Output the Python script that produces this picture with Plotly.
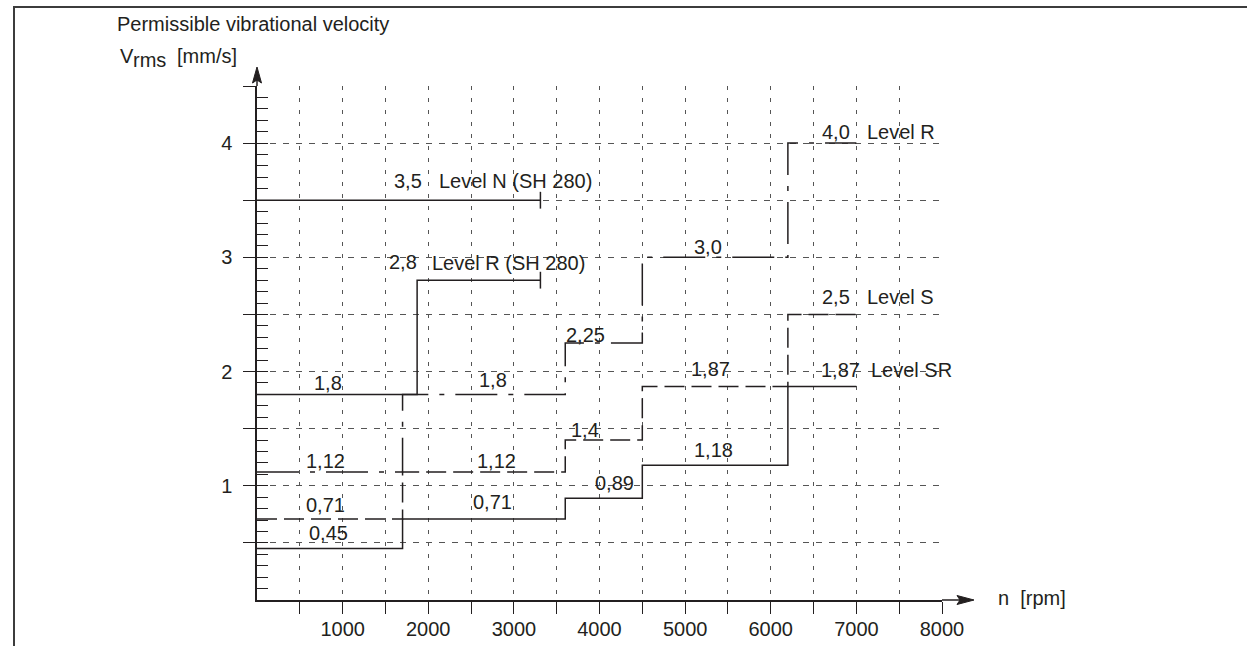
import plotly.graph_objects as go

# ---------------- data ----------------
# speed breakpoints [rpm] and permissible vibrational velocity [mm/s]
speed_breaks = [0, 1700, 3600, 4500, 6200, 7000]
level_R = [1.12, 1.8, 2.25, 3.0, 4.0]
level_S = [0.71, 1.12, 1.4, 1.87, 2.5]
level_SR = [0.45, 0.71, 0.89, 1.18, 1.87]

sh280_breaks = [0, 1870, 3310]
level_R_sh280 = [1.8, 2.8]
level_N_sh280_breaks = [0, 3310]
level_N_sh280 = [3.5]

x_tick_vals = [500, 1000, 1500, 2000, 2500, 3000, 3500, 4000, 4500, 5000, 5500, 6000, 6500, 7000, 7500, 8000]
x_tick_text = ["", "1000", "", "2000", "", "3000", "", "4000", "", "5000", "", "6000", "", "7000", "", "8000"]
y_tick_vals = [0.5, 1, 1.5, 2, 2.5, 3, 3.5, 4, 4.5]
y_tick_text = ["", "1", "", "2", "", "3", "", "4", ""]
y_minor_vals = [round(0.1 * i, 1) for i in range(1, 46)]

value_texts = ["3,5", "2,8", "4,0", "3,0", "2,5", "2,25", "1,8", "1,8", "1,4",
               "1,12", "1,12", "0,71", "0,71", "0,45", "0,89", "1,87", "1,87", "1,18"]
value_x = [1763, 1703, 6764, 5272, 6758, 3838, 833, 2753, 3832,
           800, 2794, 802, 2755, 839, 4171, 5298, 6811, 5337]
value_y = [3.667, 2.955, 4.101, 3.091, 2.649, 2.316, 1.897, 1.926, 1.491,
           1.215, 1.215, 0.829, 0.856, 0.584, 1.022, 2.024, 2.011, 1.313]

level_names = ["Level N (SH 280)", "Level R (SH 280)", "Level R", "Level S", "Level SR"]
level_name_x = [2106, 2021, 7103, 7103, 7153]
level_name_y = [3.667, 2.951, 4.101, 2.649, 2.011]

# ---------------- style ----------------
INK = "#231f20"
GRID = "#555555"
FONT = "Liberation Sans, Arial, Helvetica, sans-serif"
FS = 20

L, T, PW, PH = 257, 86, 685, 514
W, H = 1247, 646


def px(x):
    return (x - L) / PW


def py(y):
    return (T + PH - y) / PH


def step(xs, ys):
    return xs, list(ys) + [ys[-1]]


fig = go.Figure()

series = [
    (speed_breaks, level_SR, "solid"),
    (speed_breaks, level_S, "20px,7px"),
    (speed_breaks, level_R, "42px,11px,5px,11px"),
    (sh280_breaks, level_R_sh280, "solid"),
    (level_N_sh280_breaks, level_N_sh280, "solid"),
]
for xs, ys, dash in series:
    sx, sy = step(xs, ys)
    fig.add_trace(go.Scatter(x=sx, y=sy, mode="lines",
                             line=dict(shape="hv", color=INK, width=1.5, dash=dash),
                             hoverinfo="skip", showlegend=False))

# end ticks of SH 280 curves
fig.add_trace(go.Scatter(x=[sh280_breaks[-1], level_N_sh280_breaks[-1]],
                         y=[level_R_sh280[-1], level_N_sh280[-1]],
                         mode="markers",
                         marker=dict(symbol="line-ns", size=12, color=INK,
                                     line=dict(width=1.5, color=INK)),
                         hoverinfo="skip", showlegend=False))

# helper trace for minor tick axis
fig.add_trace(go.Scatter(x=[None], y=[None], yaxis="y2", showlegend=False, hoverinfo="skip"))

annotations = []
for t, x, y in zip(value_texts, value_x, value_y):
    annotations.append(dict(x=x, y=y, xref="x", yref="y", text=t, showarrow=False,
                            xanchor="center", yanchor="middle",
                            font=dict(family=FONT, size=FS, color=INK)))
for t, x, y in zip(level_names, level_name_x, level_name_y):
    annotations.append(dict(x=x, y=y, xref="x", yref="y", text=t, showarrow=False,
                            xanchor="left", yanchor="middle",
                            font=dict(family=FONT, size=FS, color=INK)))

annotations += [
    dict(x=px(115), y=py(24), xref="paper", yref="paper", text="Permissible vibrational velocity",
         showarrow=False, xanchor="left", yanchor="middle", font=dict(family=FONT, size=FS, color=INK)),
    dict(x=px(118), y=py(56), xref="paper", yref="paper", text="V",
         showarrow=False, xanchor="left", yanchor="middle", font=dict(family=FONT, size=FS, color=INK)),
    dict(x=px(131), y=py(60), xref="paper", yref="paper", text="rms",
         showarrow=False, xanchor="left", yanchor="middle", font=dict(family=FONT, size=FS, color=INK)),
    dict(x=px(175), y=py(56), xref="paper", yref="paper", text="[mm/s]",
         showarrow=False, xanchor="left", yanchor="middle", font=dict(family=FONT, size=FS, color=INK)),
    dict(x=px(996), y=py(598), xref="paper", yref="paper", text="n  [rpm]",
         showarrow=False, xanchor="left", yanchor="middle", font=dict(family=FONT, size=FS, color=INK)),
]

shapes = [
    # outer frame (left + top)
    dict(type="line", xref="paper", yref="paper", x0=px(14), y0=py(700), x1=px(14), y1=py(7),
         line=dict(color="#3c3c3c", width=2)),
    dict(type="line", xref="paper", yref="paper", x0=px(13), y0=py(7), x1=px(1300), y1=py(7),
         line=dict(color="#3c3c3c", width=2)),
    # axis extensions
    dict(type="line", xref="paper", yref="paper", x0=px(L), y0=py(T), x1=px(L), y1=py(76),
         line=dict(color=INK, width=1.5)),
    dict(type="line", xref="paper", yref="paper", x0=px(L + PW), y0=py(600), x1=px(965), y1=py(600),
         line=dict(color=INK, width=1.5)),
    # arrow heads
    dict(type="path", xref="paper", yref="paper",
         path=f"M{px(257)},{py(67)} L{px(252.5)},{py(83)} L{px(257)},{py(80)} L{px(261.5)},{py(83)} Z",
         fillcolor=INK, line=dict(color=INK, width=1)),
    dict(type="path", xref="paper", yref="paper",
         path=f"M{px(974)},{py(600)} L{px(957)},{py(595.5)} L{px(960)},{py(600)} L{px(957)},{py(604.5)} Z",
         fillcolor=INK, line=dict(color=INK, width=1)),
]

fig.update_layout(
    width=W, height=H,
    margin=dict(l=L, r=W - L - PW, t=T, b=H - T - PH, pad=0, autoexpand=False),
    paper_bgcolor="white", plot_bgcolor="white",
    font=dict(family=FONT, size=FS, color=INK),
    showlegend=False,
    xaxis=dict(range=[0, 8000], showline=True, linecolor=INK, linewidth=1.5,
               ticks="outside", ticklen=12, tickwidth=1, tickcolor=INK,
               tickvals=x_tick_vals, ticktext=x_tick_text, ticklabelstandoff=-2,
               showgrid=True, gridcolor=GRID, gridwidth=1, griddash="4px,8px",
               zeroline=False, automargin=False,
               tickfont=dict(family=FONT, size=FS, color=INK)),
    yaxis=dict(range=[0, 4.5], showline=True, linecolor=INK, linewidth=1.5,
               ticks="outside", ticklen=12, tickwidth=1, tickcolor=INK,
               tickvals=y_tick_vals, ticktext=y_tick_text, ticklabelstandoff=7,
               showgrid=True, gridcolor=GRID, gridwidth=1, griddash="6px,7px",
               zeroline=False, automargin=False,
               tickfont=dict(family=FONT, size=FS, color=INK)),
    yaxis2=dict(range=[0, 4.5], overlaying="y", side="left", ticks="inside", ticklen=11,
                tickwidth=1, tickcolor=INK, tickvals=y_minor_vals, showticklabels=False,
                showgrid=False, zeroline=False, showline=False, automargin=False),
    annotations=annotations,
    shapes=shapes,
)

fig.write_html("out.html", config={"displayModeBar": False},
               post_script="document.body.style.margin='0';")
